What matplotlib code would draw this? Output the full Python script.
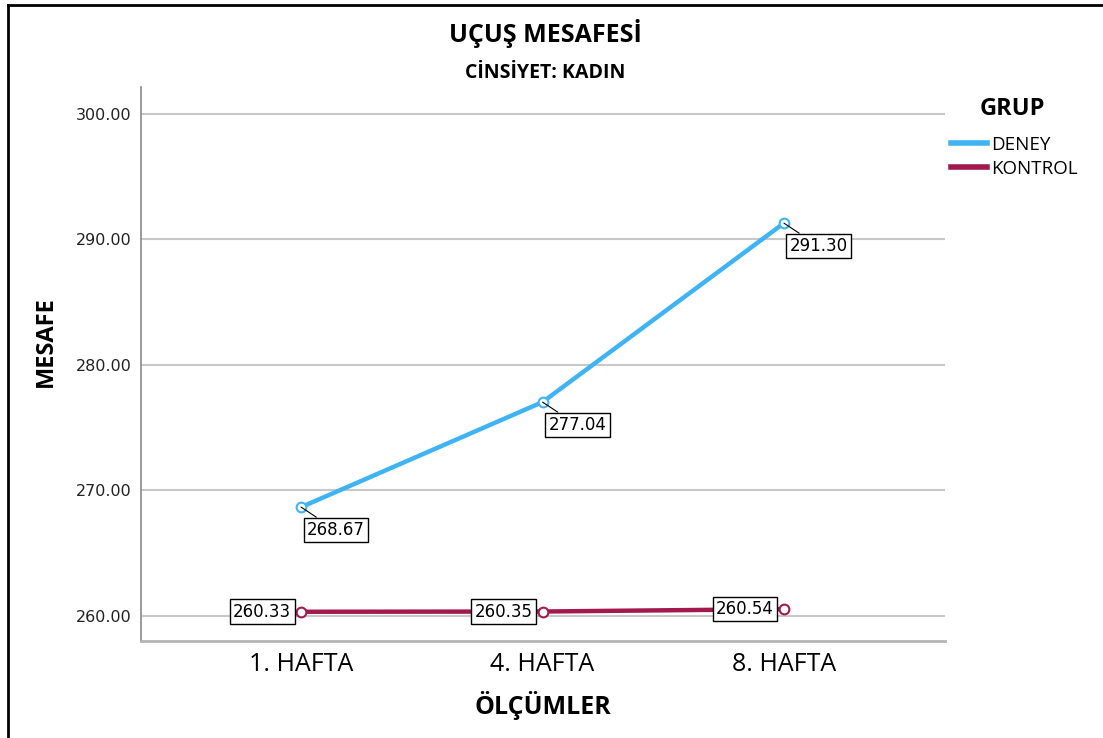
import matplotlib
matplotlib.use('Agg')
import matplotlib.pyplot as plt
from matplotlib.lines import Line2D

# данные
weeks = ['1. HAFTA', '4. HAFTA', '8. HAFTA']
deney = [268.67, 277.04, 291.30]
kontrol = [260.33, 260.35, 260.54]
yticks = [260, 270, 280, 290, 300]

blue = '#3FB3F3'
red = '#A2194E'
sans = ['Open Sans', 'DejaVu Sans']

fig = plt.figure(figsize=(11.03, 7.38), dpi=100)
ax = fig.add_axes([141 / 1103, 1 - 641 / 738, (945 - 141) / 1103, (641 - 87) / 738])

x = list(range(len(weeks)))
ax.plot(x, deney, color=blue, lw=3.2, marker='o', ms=7, mfc='white',
        mec=blue, mew=1.5, zorder=3, label='DENEY')
ax.plot(x, kontrol, color=red, lw=3.2, marker='o', ms=7, mfc='white',
        mec=red, mew=1.5, zorder=3, label='KONTROL')

box = dict(boxstyle='square,pad=0.2', fc='white', ec='black', lw=1)
for xi, v in zip(x, deney):
    ax.annotate(f'{v:.2f}', (xi, v), xytext=(25, -16.5), textcoords='offset points',
                ha='center', va='center', fontsize=12, bbox=box, zorder=5,
                arrowprops=dict(arrowstyle='-', color='black', lw=0.8,
                                shrinkA=0, shrinkB=0))
for xi, v in zip(x, kontrol):
    ax.annotate(f'{v:.2f}', (xi, v), xytext=(-28, 0), textcoords='offset points',
                ha='center', va='center', fontsize=12, bbox=box, zorder=5)

ax.set_xlim(-0.663, 2.667)
ax.set_ylim(258.0, 302.15)
ax.set_yticks(yticks)
ax.set_yticklabels([f'{t:.2f}' for t in yticks], fontsize=11.5, color='#222222')
ax.set_xticks(x)
ax.set_xticklabels(weeks, fontsize=18, family=sans)
ax.tick_params(axis='both', length=0)
ax.tick_params(axis='y', pad=7)
ax.tick_params(axis='x', pad=8)
ax.grid(axis='y', color='#c8c8c8', lw=1.5)
ax.set_axisbelow(True)
for s in ['top', 'right']:
    ax.spines[s].set_visible(False)
ax.spines['left'].set_color('#8a8a8a')
ax.spines['left'].set_linewidth(1.2)
ax.spines['bottom'].set_color('#b5b5b5')
ax.spines['bottom'].set_linewidth(2)

ax.set_xlabel('ÖLÇÜMLER', fontsize=18, fontweight='bold', family=sans, labelpad=10)
ax.set_ylabel('MESAFE', fontsize=17, fontweight='bold', family=sans)
ax.yaxis.set_label_coords(-0.104, 0.54)

fig.text(0.4946, 1 - 33 / 738, 'UÇUŞ MESAFESİ', ha='center', va='center',
         fontsize=18, fontweight='bold', family=sans)
fig.text(0.4946, 1 - 73 / 738, 'CİNSİYET: KADIN', ha='center', va='center',
         fontsize=14, fontweight='bold', family=sans)

# легенда
fig.text(1012 / 1103, 1 - 109 / 738, 'GRUP', ha='center', va='center',
         fontsize=17, fontweight='bold', family=sans)
leg = ax.legend(loc='upper left', bbox_to_anchor=(934 / 1103, 1 - 119 / 738),
                bbox_transform=fig.transFigure, frameon=False,
                handlelength=1.9, handletextpad=0.25, labelspacing=0.3,
                prop={'family': sans, 'size': 13.5})
for h in leg.get_lines():
    h.set_marker('')
    h.set_linewidth(4)

# рамка
fig.add_artist(Line2D([8 / 1103, 8 / 1103], [0, 1 - 5 / 738], color='black', lw=2,
                      transform=fig.transFigure))
fig.add_artist(Line2D([8 / 1103, 1], [1 - 5 / 738, 1 - 5 / 738], color='black', lw=2,
                      transform=fig.transFigure))

fig.savefig('out.png', dpi=100)
